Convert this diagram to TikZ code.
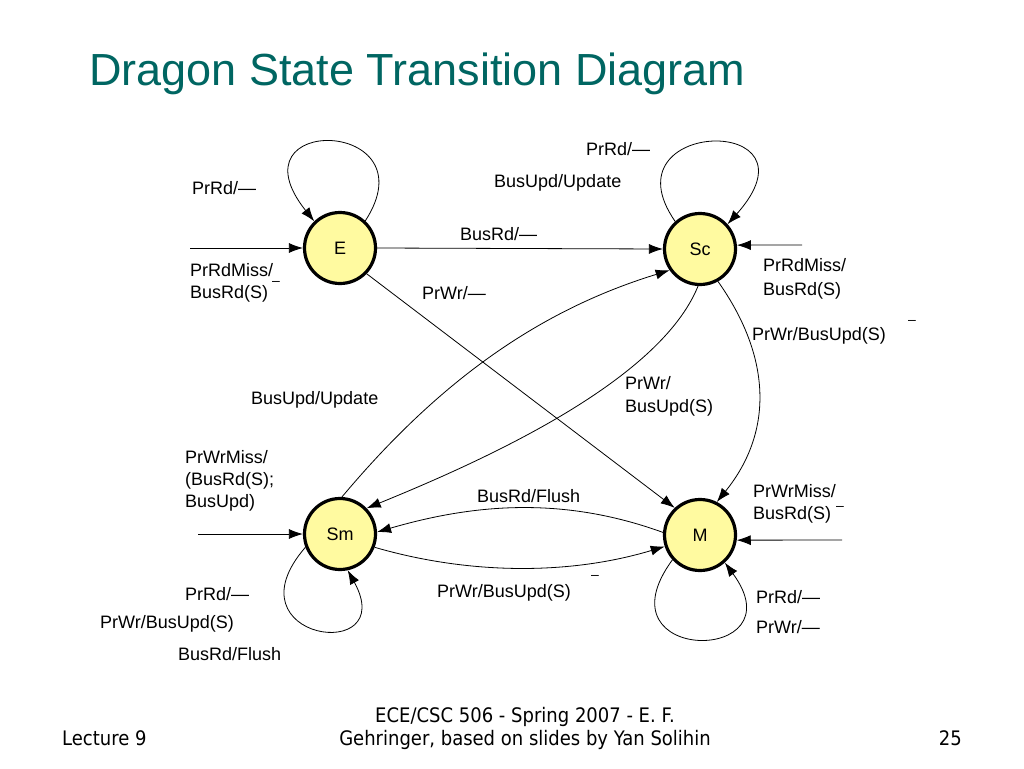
\documentclass[tikz,border=0pt]{standalone}
\usepackage{fontspec}
\setmainfont{Liberation Sans}
\newfontfamily\footfont[FakeStretch=0.9]{DejaVu Sans}
\usetikzlibrary{arrows.meta}
\definecolor{titleteal}{RGB}{0,102,98}
\definecolor{statefill}{RGB}{255,250,160}
\begin{document}
\begin{tikzpicture}[x=1pt,y=-1pt,
  state/.style={circle,draw,line width=3.2pt,fill=statefill,minimum size=71pt,inner sep=0pt,font=\fontsize{18}{21}\selectfont},
  edge/.style={line width=0.8pt,-{Latex[length=14pt,width=10pt]}},
  lbl/.style={anchor=base west,inner sep=0pt,font=\fontsize{18}{22}\selectfont},
  bar/.style={inner sep=0pt,font=\fontsize{14}{16}\selectfont},
  foot/.style={inner sep=0pt,font=\footfont\fontsize{20}{24}\selectfont},
]
\useasboundingbox[fill=white] (0,0) rectangle (1024,768);

% title
\node[anchor=base west,inner sep=0pt,text=titleteal,font=\fontsize{45}{54}\selectfont] (title) at (89,85) {Dragon State Transition Diagram};

% states
\node[state] (E)  at (340,248) {E};
\node[state] (Sc) at (700,249) {Sc};
\node[state] (Sm) at (340,534) {Sm};
\node[state] (M)  at (700,535) {M};

% free ends of incoming arrows
\coordinate (inE)  at (190,248);
\coordinate (inSc) at (802,245);
\coordinate (inSm) at (198,534);
\coordinate (inM)  at (842,540);

% incoming arrows
\draw[edge] (inE) -- (E.west);
\draw[edge] (inSc) -- (Sc.6);
\draw[edge] (inSm) -- (Sm.west);
\draw[edge] (inM) -- (M.-8);

% self loops
\draw[edge] (E.47) .. controls (432,118) and (228,113) .. (E.134);
\draw[edge] (Sc.132) .. controls (603,118) and (827,113) .. (Sc.42);
\draw[edge] (Sm.201) .. controls (225,640) and (400,665) .. (Sm.282);
\draw[edge] (M.222) .. controls (595,665) and (800,665) .. (M.312);

% transitions
\draw[edge] (E.east) -- (Sc.west);
\draw[edge] (E.-44) -- (M.133);
\draw[edge] (Sm.87) .. controls (440,380) and (540,310) .. (Sc.215);
\draw[edge] (Sc.267) .. controls (660,380) and (490,458) .. (Sm.44);
\draw[edge] (Sc.299) .. controls (770,355) and (775,430) .. (M.63);
\draw[edge] (M.176) .. controls (560,495) and (470,505) .. (Sm.3);
\draw[edge] (Sm.-21) .. controls (470,575) and (570,575) .. (M.198);

% labels around E
\node[lbl] (lEloop) at (192,194) {PrRd/—};
\node[lbl] (lEin1) at (190,276) {PrRdMiss/};
\node[lbl] (lEin2) at (190,298) {BusRd(S)};
\node[bar] (bE) at (276,283) {–};
\node[lbl] (lESc) at (460,240) {BusRd/—};
\node[lbl] (lEM) at (422,299) {PrWr/—};

% labels around Sc
\node[lbl] (lScloop1) at (586,155) {PrRd/—};
\node[lbl] (lScloop2) at (494,187) {BusUpd/Update};
\node[lbl] (lScin1) at (763,271) {PrRdMiss/};
\node[lbl] (lScin2) at (763,295) {BusRd(S)};
\node[lbl] (lScM) at (752,340) {PrWr/BusUpd(S)};
\node[bar] (bScM) at (912,322) {–};
\node[lbl] (lScSm1) at (625,389) {PrWr/};
\node[lbl] (lScSm2) at (625,412) {BusUpd(S)};

% labels around Sm
\node[lbl] (lSmSc) at (251,404) {BusUpd/Update};
\node[lbl] (lSmin1) at (185,463) {PrWrMiss/};
\node[lbl] (lSmin2) at (185,485) {(BusRd(S);};
\node[lbl] (lSmin3) at (185,507) {BusUpd)};
\node[lbl] (lMSm) at (477,502) {BusRd/Flush};
\node[lbl] (lSmM) at (437,597) {PrWr/BusUpd(S)};
\node[bar] (bSmM) at (595,577) {–};
\node[lbl] (lSmloop1) at (185,600) {PrRd/—};
\node[lbl] (lSmloop2) at (100,628) {PrWr/BusUpd(S)};
\node[lbl] (lSmloop3) at (178,660) {BusRd/Flush};

% labels around M
\node[lbl] (lMin1) at (753,497) {PrWrMiss/};
\node[lbl] (lMin2) at (753,519) {BusRd(S)};
\node[bar] (bM) at (840,508) {–};
\node[lbl] (lMloop1) at (756,603) {PrRd/—};
\node[lbl] (lMloop2) at (756,633) {PrWr/—};

% footer
\node[foot,anchor=base west] (fleft) at (62,745) {Lecture 9};
\node[foot,anchor=base] (fmid1) at (525,722) {ECE/CSC 506 - Spring 2007 - E. F.};
\node[foot,anchor=base] (fmid2) at (525,745) {Gehringer, based on slides by Yan Solihin};
\node[foot,anchor=base east] (fright) at (962,745) {25};
\end{tikzpicture}
\end{document}
